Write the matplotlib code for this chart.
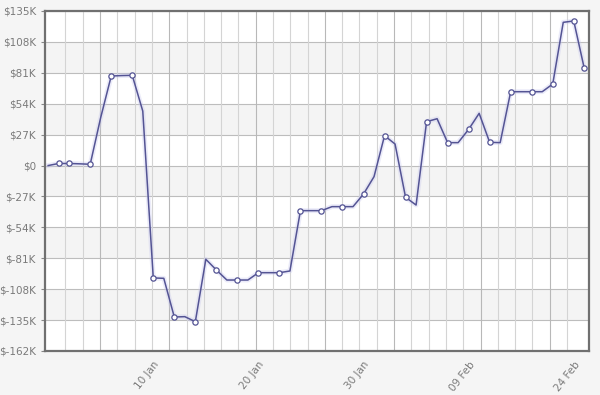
import numpy as np
import matplotlib.pyplot as plt
from matplotlib.ticker import FixedLocator

# Daily balance (thousands of dollars), one point per day
values = [0.0, 1.8, 1.8, 1.5, 1.1, 42.0, 78.2, 78.6, 78.8, 47.6,
          -98.2, -98.5, -132.3, -132.0, -136.4, -81.9, -91.2, -100.0, -100.0, -100.0,
          -93.6, -93.6, -93.6, -92.1, -39.4, -39.4, -39.4, -35.9, -35.9, -35.9,
          -24.9, -9.7, 26.1, 18.8, -27.7, -34.5, 38.3, 40.9, 20.0, 20.0,
          31.6, 45.6, 20.3, 20.0, 64.5, 64.5, 64.5, 64.5, 71.2, 125.1,
          126.3, 84.9]
marker_idx = [1, 2, 4] + list(range(6, 51, 2)) + [51]
tick_pos = [10, 20, 30, 40, 50]
tick_labels = ["10 Jan", "20 Jan", "30 Jan", "09 Feb", "24 Feb"]
y_ticks = [135, 108, 81, 54, 27, 0, -27, -54, -81, -108, -135, -162]
y_labels = ["$135K", "$108K", "$81K", "$54K", "$27K", "$0", "$-27K",
            "$-54K", "$-81K", "$-108K", "$-135K", "$-162K"]

bg = "#f5f5f5"
line_col = "#545494"

fig = plt.figure(figsize=(6, 3.95), dpi=100)
fig.patch.set_facecolor(bg)
ax = fig.add_axes([45 / 600, 1 - 351 / 395, 544 / 600, 340 / 395])
ax.set_facecolor("white")

x = np.arange(len(values))
ax.set_xlim(-0.3, 51.45)
ax.set_ylim(-162, 135)

# alternating horizontal bands
for lo in [81, 27, -27, -81, -135]:
    ax.axhspan(lo, lo + 27, color="#f4f4f4", zorder=0, lw=0)
for yv in y_ticks:
    ax.axhline(yv, color="#bdbdbd", lw=0.8, zorder=1)

# vertical grid, with slightly darker weekly lines
step = 51 / 31
for k in range(1, 31):
    col = "#b8b8b8" if k in (3, 7, 12, 16, 20, 25, 29) else "#d4d4d4"
    ax.axvline(k * step, color=col, lw=0.8, zorder=1)

# soft glow under the line
ax.plot(x, values, color="#c8c8ee", lw=3.5, alpha=0.35, zorder=2,
        solid_joinstyle="round")
ax.plot(x, values, color=line_col, lw=1.1, zorder=3)
ax.plot(x[marker_idx], np.array(values)[marker_idx], ls="none", marker="o",
        ms=3.8, mfc="white", mec=line_col, mew=0.9, zorder=4)

ax.yaxis.set_major_locator(FixedLocator(y_ticks))
ax.set_yticklabels(y_labels)
ax.set_xticks(tick_pos)
ax.set_xticklabels(tick_labels, rotation=52, ha="right", rotation_mode="anchor")
ax.tick_params(axis="both", colors="#888888", labelcolor="#7a7a7a",
               labelsize=7.5, length=3, width=0.8)
ax.tick_params(axis="x", length=0, pad=6)

for s in ax.spines.values():
    s.set_color("#707070")
    s.set_linewidth(1.6)

fig.savefig("out.png", dpi=100, facecolor=bg)
